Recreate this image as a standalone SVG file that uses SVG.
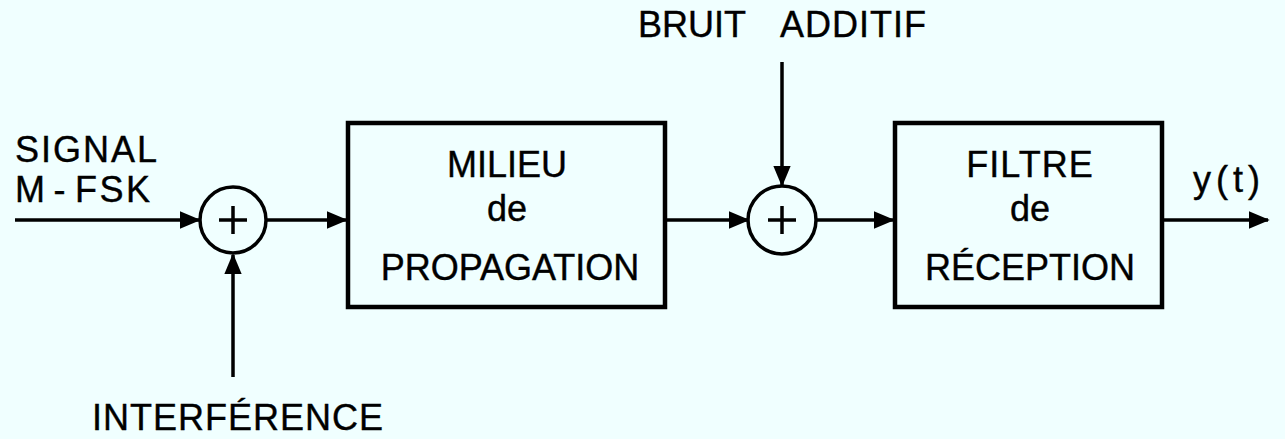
<svg xmlns="http://www.w3.org/2000/svg" width="1285" height="439" viewBox="0 0 1285 439">
  <style>
    .bg { fill: #f0ffff; }
    .box { fill: none; stroke: #000; stroke-width: 4.5; }
    .sum { fill: none; stroke: #000; stroke-width: 3.5; }
    .plus { stroke: #000; stroke-width: 3.5; fill: none; }
    .wire { stroke: #000; stroke-width: 3.5; fill: none; marker-end: url(#arrow); }
    text { font-family: "Liberation Sans", Arial, sans-serif; font-size: 36px; fill: #000; stroke: #000; stroke-width: 0.4; }
    .c { text-anchor: middle; }
  </style>
  <defs>
    <marker id="arrow" markerWidth="6" markerHeight="5" refX="5.5" refY="2.5" orient="auto" markerUnits="strokeWidth">
      <path d="M0,0 L6,2.5 L0,5 Z" fill="#000"/>
    </marker>
  </defs>

  <rect class="bg" x="0" y="0" width="1285" height="439"/>

  <!-- connectors -->
  <g id="connectors">
    <line class="wire" x1="15" y1="220" x2="199" y2="220"/>
    <line class="wire" x1="267" y1="220" x2="346" y2="220"/>
    <line class="wire" x1="233" y1="377" x2="233" y2="255"/>
    <line class="wire" x1="667" y1="220" x2="748" y2="220"/>
    <line class="wire" x1="782" y1="62" x2="782" y2="185"/>
    <line class="wire" x1="817" y1="220" x2="893" y2="220"/>
    <line class="wire" x1="1164" y1="220" x2="1268" y2="220"/>
  </g>

  <!-- input labels -->
  <g id="label-signal">
    <text x="15" y="162" letter-spacing="2">SIGNAL</text>
    <text x="15" y="202" letter-spacing="2.5">M<tspan dx="6">-</tspan><tspan dx="7">FSK</tspan></text>
  </g>

  <!-- first summing junction -->
  <g id="sum1">
    <circle class="sum" cx="233" cy="220" r="33"/>
    <path class="plus" d="M219,220 H247 M233,206 V234"/>
  </g>

  <g id="label-interference">
    <text x="92" y="430" letter-spacing="1">INTERFÉRENCE</text>
  </g>

  <!-- propagation medium -->
  <g id="milieu">
    <rect class="box" x="348" y="123" width="317" height="184"/>
    <text class="c" x="507" y="177">MILIEU</text>
    <text class="c" x="507" y="221">de</text>
    <text class="c" x="510" y="280" font-size="37">PROPAGATION</text>
  </g>

  <!-- second summing junction -->
  <g id="sum2">
    <circle class="sum" cx="782" cy="220" r="34"/>
    <path class="plus" d="M768,220 H796 M782,206 V234"/>
  </g>

  <g id="label-bruit">
    <text x="638" y="37">BRUIT</text>
    <text x="780" y="37" letter-spacing="1">ADDITIF</text>
  </g>

  <!-- receive filter -->
  <g id="filtre">
    <rect class="box" x="895" y="123" width="267" height="184"/>
    <text class="c" x="1030" y="177" letter-spacing="1">FILTRE</text>
    <text class="c" x="1030" y="221">de</text>
    <text class="c" x="1030" y="280">RÉCEPTION</text>
  </g>

  <g id="label-output">
    <text x="1193" y="192" font-size="41" letter-spacing="5">y(t)</text>
  </g>
</svg>
